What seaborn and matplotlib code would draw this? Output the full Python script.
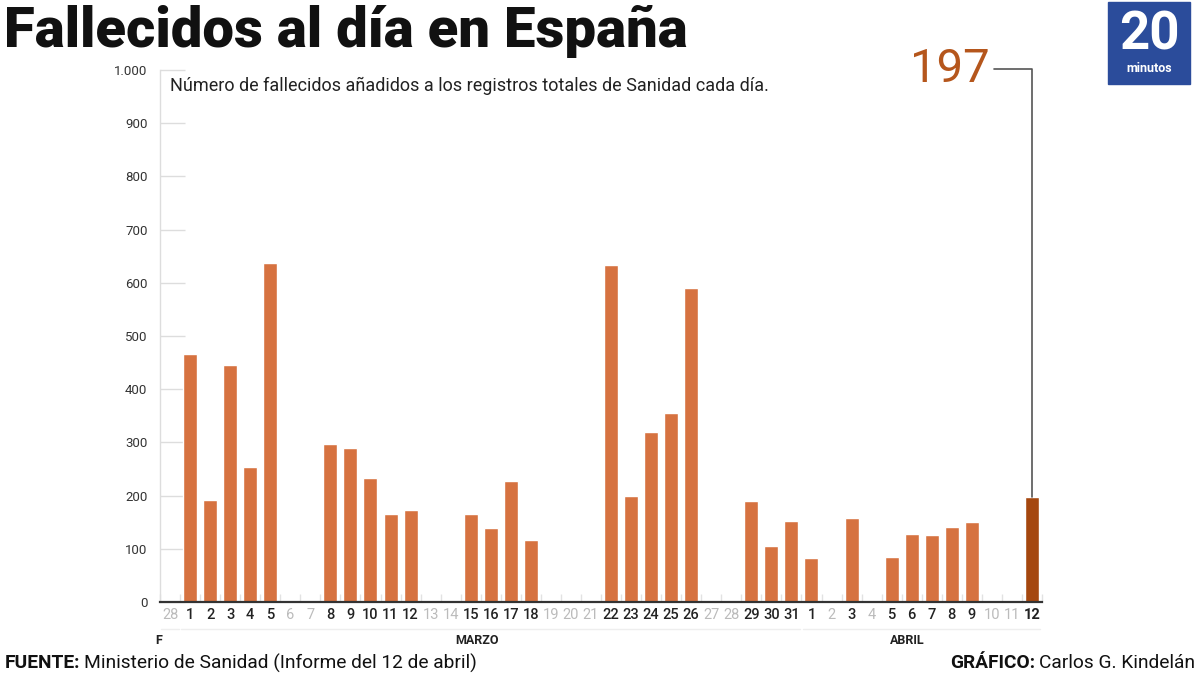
import pandas as pd
import seaborn as sns
import matplotlib.pyplot as plt
import matplotlib.transforms as mtransforms
from matplotlib.patches import Rectangle

# Datos: fallecidos añadidos cada día (28 feb - 12 abr)
fechas = ["28-feb"] + [f"{d}-mar" for d in range(1, 32)] + [f"{d}-abr" for d in range(1, 13)]
dias = [28] + list(range(1, 32)) + list(range(1, 13))
fallecidos = [0,
              466, 192, 445, 254, 637, 0, 0, 297, 290, 234, 165, 172, 0, 0, 166,
              140, 228, 116, 0, 0, 0, 633, 200, 320, 356, 590, 0, 0, 189, 105, 153,
              82, 0, 157, 0, 85, 128, 126, 141, 150, 0, 0, 197]
meses = ["F", "MARZO", "ABRIL"]

naranja = "#d67240"
naranjaOscuro = "#a5470f"
colores = {f: (naranjaOscuro if i == len(fechas) - 1 else naranja) for i, f in enumerate(fechas)}

df = pd.DataFrame({"fecha": fechas, "fallecidos": fallecidos})

sns.set_theme(style="white")
plt.rcParams['font.family'] = ['Roboto', 'DejaVu Sans']

fig = plt.figure(figsize=(12, 6.75), dpi=100)
ax = fig.add_axes([160 / 1200, 73 / 675, 882 / 1200, 532 / 675])

sns.barplot(data=df, x="fecha", y="fallecidos", hue="fecha", palette=colores,
            legend=False, width=0.7, saturation=1, ax=ax)

ax.set_xlim(-0.45, len(fechas) - 0.6)
ax.set_ylim(0, 1000)
ax.set_xlabel("")
ax.set_ylabel("")

# ejes
for lado in ["top", "right"]:
    ax.spines[lado].set_visible(False)
ax.spines["left"].set_color("#dddddd")
ax.spines["left"].set_linewidth(1)
ax.spines["bottom"].set_color("#333333")
ax.spines["bottom"].set_linewidth(1.6)

yticks = list(range(0, 1001, 100))
ax.set_yticks(yticks)
ax.set_yticklabels([f"{v:,}".replace(",", ".") for v in yticks], fontsize=9.5, color="#333333")
ax.tick_params(axis="y", direction="in", length=18, width=1, color="#dddddd", pad=9, left=True)

ax.set_xticks(range(len(fechas)))
ax.set_xticklabels([str(d) for d in dias], fontsize=10.5)
ax.tick_params(axis="x", length=0, pad=4)
ax.set_xticks([i - 0.5 for i in range(len(fechas) + 1)], minor=True)
ax.tick_params(axis="x", which="minor", direction="in", length=6, width=1, color="#e2e2e2", bottom=True)

for i, lbl in enumerate(ax.get_xticklabels()):
    if fallecidos[i] == 0:
        lbl.set_color("#bbbbbb")
    else:
        lbl.set_color("#222222")
        lbl.set_fontweight("medium")
    if i == len(fechas) - 1:
        lbl.set_fontweight("bold")

# meses bajo el eje
trans = mtransforms.blended_transform_factory(ax.transData, ax.transAxes)
for seg in [(-0.45, 0.45), (0.55, 31.45), (31.6, 43.4)]:
    ax.plot(seg, [-0.05, -0.05], color="#eeeeee", lw=1, transform=trans, clip_on=False)
ax.text(-0.75, -0.072, meses[0], transform=trans, fontsize=9, fontweight="bold",
        ha="left", va="center", color="#222222")
ax.text(15.3, -0.072, meses[1], transform=trans, fontsize=9, fontweight="bold",
        ha="center", va="center", color="#222222")
ax.text(36.8, -0.072, meses[2], transform=trans, fontsize=9, fontweight="bold",
        ha="center", va="center", color="#222222")

# anotación del último día
ultimo = len(fechas) - 1
ax.plot([41.1, ultimo, ultimo], [1002, 1002, fallecidos[-1]], color="#555555", lw=1.2, clip_on=False)
ax.text(40.9, 1002, str(fallecidos[-1]), ha="right", va="center", fontsize=34,
        color="#b5561c", clip_on=False)

# título y subtítulo
fig.text(4 / 1200, 1 - 31 / 675, "Fallecidos al día en España", fontsize=40.5,
         fontweight="black", va="center", ha="left", color="#111111")
fig.text(170 / 1200, 1 - 86 / 675,
         "Número de fallecidos añadidos a los registros totales de Sanidad cada día.",
         fontsize=13, va="center", ha="left", color="#222222")

# logo 20minutos
fig.patches.append(Rectangle((1108 / 1200, 1 - 84 / 675), 82 / 1200, 82 / 675,
                             transform=fig.transFigure, color="#2b4c9b", zorder=5))
fig.text(1149 / 1200, 1 - 35 / 675, "20", fontsize=38, fontweight="bold", color="white",
         ha="center", va="center", zorder=6)
fig.text(1149 / 1200, 1 - 69 / 675, "minutos", fontsize=9, fontweight="bold", color="white",
         ha="center", va="center", zorder=6)

# pie
renderer = fig.canvas.get_renderer()
t1 = fig.text(5 / 1200, 1 - 663 / 675, "FUENTE:", fontsize=13.8, fontweight="bold",
              va="center", ha="left", color="#111111")
bb = t1.get_window_extent(renderer)
fig.text(bb.x1 / 1200 + 3 / 1200, 1 - 663 / 675, "Ministerio de Sanidad (Informe del 12 de abril)",
         fontsize=13.8, va="center", ha="left", color="#111111")

t2 = fig.text(1195 / 1200, 1 - 663 / 675, "Carlos G. Kindelán", fontsize=13.8,
              va="center", ha="right", color="#111111")
bb2 = t2.get_window_extent(renderer)
fig.text(bb2.x0 / 1200 - 4 / 1200, 1 - 663 / 675, "GRÁFICO:", fontsize=13.8, fontweight="bold",
         va="center", ha="right", color="#111111")

fig.savefig("out.png", dpi=100)
